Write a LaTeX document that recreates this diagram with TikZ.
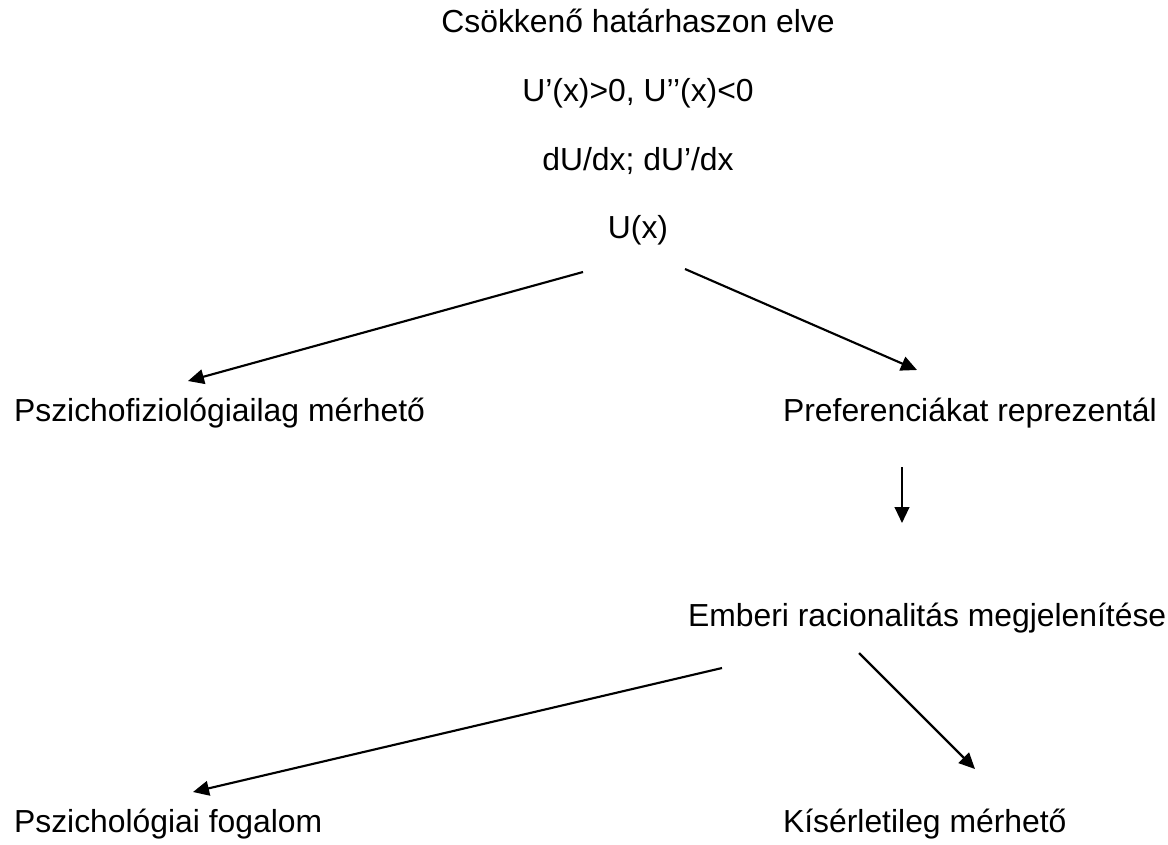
\documentclass[tikz,border=0pt]{standalone}
\usepackage{fontspec}
\setmainfont{Liberation Sans}
\usetikzlibrary{positioning,arrows.meta}
\tikzset{>={Triangle[length=12pt,width=11pt]}}

\begin{document}
\begin{tikzpicture}[x=0.75pt,y=-0.75pt,line width=1.6pt,
    txt/.style={inner sep=0pt, font=\fontsize{23.9}{28}\selectfont, text height=21pt, text depth=5pt}]
      \useasboundingbox (0,0) rectangle (1168,844);
      \node[txt] (n0) at (638,22.3) {Csökkenő határhaszon elve};
      \node[txt, below of=n0, node distance=51.5pt] (n1) {U’(x)>0, U’’(x)<0};
      \node[txt, below of=n1, node distance=51.5pt] (n2) {dU/dx; dU’/dx};
      \node[txt, below of=n2, node distance=51.5pt] (n3) {U(x)};
      \node[txt, anchor=base west] (n4) at (13,421) {Pszichofiziológiailag mérhető};
      \node[txt, anchor=base west] (n5) at (782,421) {Preferenciákat reprezentál};
      \node[txt, anchor=base west] (n6) at (687,626) {Emberi racionalitás megjelenítése};
      \node[txt, anchor=base west] (n7) at (13,832) {Pszichológiai fogalom};
      \node[txt, anchor=base west] (n8) at (782,832) {Kísérletileg mérhető};
      \coordinate (aux1) at (583,272);
      \coordinate (aux2) at (188,381);
      \coordinate (aux3) at (685,269);
      \coordinate (aux4) at (917,370);
      \coordinate (aux5) at (902,467);
      \coordinate (aux6) at (902,523);
      \coordinate (aux7) at (722,668);
      \coordinate (aux8) at (193,792);
      \coordinate (aux9) at (859,653);
      \coordinate (aux10) at (975,769);
      \draw[->] (aux1) -- (aux2);
      \draw[->] (aux3) -- (aux4);
      \draw[->] (aux5) -- (aux6);
      \draw[->] (aux7) -- (aux8);
      \draw[->] (aux9) -- (aux10);
    \end{tikzpicture}
\end{document}
